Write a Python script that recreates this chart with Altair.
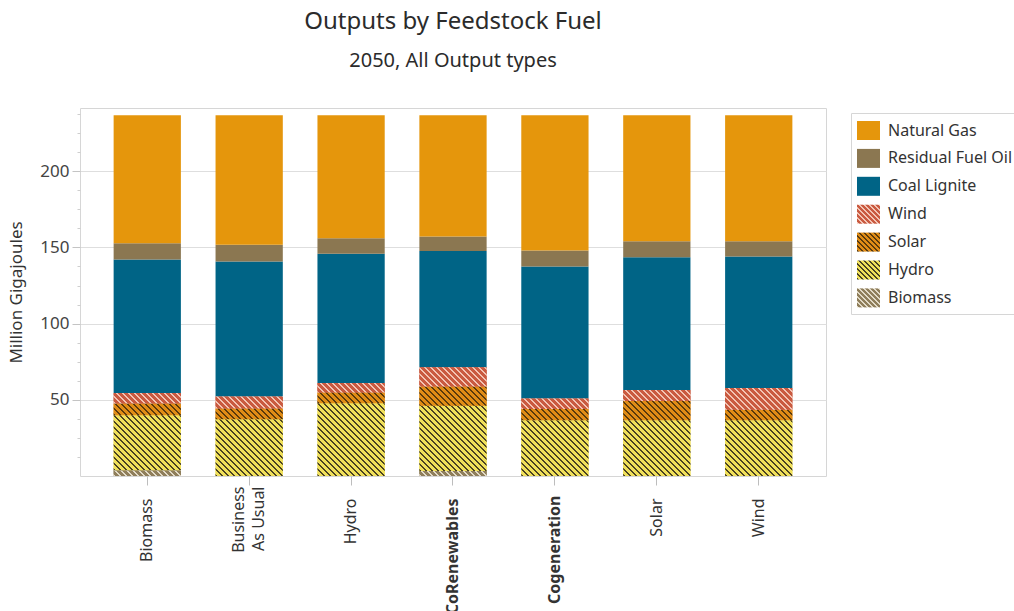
import altair as alt
import pandas as pd

# Scenarios along the x axis
scenarios = ["Biomass", "Business As Usual", "Hydro", "CoRenewables", "Cogeneration", "Solar", "Wind"]

# Outputs by feedstock fuel, million GJ, one value per scenario (order as above)
biomass = [3.7, 0.0, 0.0, 3.3, 0.0, 0.0, 0.0]
hydro = [36.2, 37.3, 47.8, 42.8, 36.6, 36.6, 36.6]
solar = [7.7, 7.0, 7.0, 12.7, 7.3, 12.7, 6.8]
wind = [6.8, 7.9, 6.2, 12.5, 7.0, 7.1, 14.3]
coal_lignite = [87.7, 88.6, 84.9, 76.3, 86.6, 87.2, 86.4]
residual_fuel_oil = [10.7, 11.0, 10.2, 9.6, 10.5, 10.5, 10.0]
natural_gas = [84.0, 85.0, 80.7, 79.6, 88.8, 82.7, 82.7]

# Stacking order, bottom to top
fuels = ["Biomass", "Hydro", "Solar", "Wind", "Coal Lignite", "Residual Fuel Oil", "Natural Gas"]
series = [biomass, hydro, solar, wind, coal_lignite, residual_fuel_oil, natural_gas]
legend_order = fuels[::-1]

fill_colors = {
    "Natural Gas": "#e5960c",
    "Residual Fuel Oil": "#8b7751",
    "Coal Lignite": "#006486",
    "Wind": "#c95a40",
    "Solar": "#e08c16",
    "Hydro": "#f0e05a",
    "Biomass": "#8f7e5b",
}
# Hatched fuels: colour of the diagonal lines drawn over the fill
stripe_colors = {
    "Wind": "#f3c4b4",
    "Solar": "#5a3a0c",
    "Hydro": "#4a4222",
    "Biomass": "#e2dac6",
}

FONT = "Noto Sans"
W, H = 746, 368
Y_MAX = 241.5
PAD_INNER, PAD_OUTER = 0.34, 0.33
STEP = W / (len(scenarios) - PAD_INNER + 2 * PAD_OUTER)
BAR_W = STEP * (1 - PAD_INNER)


def hatch(w, h, base, line, period, lw):
    """Linear gradient with hard stops that draws 45-degree '\\' stripes
    over a w x h box (gradient runs in bounding-box units)."""
    span = w + h
    k = span / (w * w + h * h)
    stops = []
    pos = 0.0
    while pos < span - 1e-9:
        a = pos / span
        b = min(pos + lw, span) / span
        c = min(pos + period, span) / span
        stops += [
            {"offset": round(a, 5), "color": line},
            {"offset": round(b, 5), "color": line},
            {"offset": round(b, 5), "color": base},
            {"offset": round(c, 5), "color": base},
        ]
        pos += period
    return {
        "gradient": "linear",
        "x1": 0, "y1": 1,
        "x2": round(w * k, 5), "y2": round(1 - h * k, 5),
        "stops": stops,
    }


def gradient_expr(g):
    """Same gradient written as a Vega expression object literal."""
    stops = ", ".join(f"{{offset: {s['offset']}, color: '{s['color']}'}}" for s in g["stops"])
    return (
        f"{{gradient: 'linear', x1: {g['x1']}, y1: {g['y1']}, "
        f"x2: {g['x2']}, y2: {g['y2']}, stops: [{stops}]}}"
    )


rows = []
for rank, (fuel, vals) in enumerate(zip(fuels, series)):
    for sc, v in zip(scenarios, vals):
        rows.append({"scenario": sc, "fuel": fuel, "value": v, "rank": rank})
df = pd.DataFrame(rows)

stacked = alt.Chart(df).transform_stack(
    stack="value",
    groupby=["scenario"],
    sort=[alt.SortField("rank", order="ascending")],
    as_=["v0", "v1"],
)

x_scale = alt.Scale(domain=scenarios, paddingInner=PAD_INNER, paddingOuter=PAD_OUTER)
y_scale = alt.Scale(domain=[0, Y_MAX], nice=False, zero=True)

x_axis = alt.Axis(
    title=None,
    domain=False,
    labelAngle=270,
    labelAlign="right",
    labelBaseline="middle",
    labelFontSize=16,
    labelColor="#333333",
    labelLineHeight=20,
    labelFontWeight={
        "condition": {
            "test": "datum.value === 'Cogeneration' || datum.value === 'CoRenewables'",
            "value": "bold",
        },
        "value": "normal",
    },
    labelExpr="datum.value === 'Business As Usual' ? ['Business', 'As Usual'] : datum.label",
    labelPadding={
        "condition": [
            {"test": "datum.value === 'Business As Usual'", "value": 1},
            {"test": "datum.value === 'Cogeneration'", "value": 10},
        ],
        "value": 13,
    },
    labelOffset={
        "condition": {"test": "datum.value === 'Business As Usual'", "value": -10},
        "value": 0,
    },
    labelLimit=400,
    tickSize=9,
    tickColor="#bdbdbd",
    grid=False,
)
# Layers other than the first reuse the x axis above (no separate settings)
x_shared = alt.X("scenario:N", scale=x_scale, sort=scenarios)

y_axis = alt.Axis(
    orient="left",
    title="Million Gigajoules",
    titleFontSize=17,
    titleFontWeight="normal",
    titleColor="#333333",
    titlePadding=14,
    values=[50, 100, 150, 200],
    labelFontSize=17,
    labelColor="#444444",
    labelPadding=3,
    tickSize=8,
    tickColor="#c4c4c4",
    domain=False,
    grid=True,
    gridColor="#dedede",
)

minor_values = [v * 12.5 for v in range(1, 20) if (v * 12.5) % 50 != 0]
minor_axis = alt.Axis(
    orient="left",
    title=None,
    values=minor_values,
    labels=False,
    tickSize=3,
    tickColor="#cfcfcf",
    domain=False,
    grid=False,
)

# Legend swatches: 23 x 19 rectangles, hatched ones filled with stripes
SW, SH = 23, 19
swatch_path = f"M-1,-{SH / SW:.4f}H1V{SH / SW:.4f}H-1Z"
swatch_fill = "'#888888'"
for f in fuels:
    if f in stripe_colors:
        val = gradient_expr(hatch(SW, SH, fill_colors[f], stripe_colors[f], 5.0, 1.8))
    else:
        val = f"'{fill_colors[f]}'"
    swatch_fill = f"datum.label === '{f}' ? {val} : ({swatch_fill})"

legend = alt.Legend(
    title=None,
    orient="none",
    legendX=W + 25,
    legendY=5,
    padding=6,
    strokeColor="#d6d6d6",
    fillColor="white",
    labelFont=FONT,
    labelFontSize=16,
    labelColor="#333333",
    labelOffset=8,
    labelLimit=400,
    symbolSize=SW * SW,
    symbolStrokeWidth=0,
    symbolStrokeColor="transparent",
    symbolOpacity=1,
    rowPadding=5.9,
)

base = stacked.mark_bar().encode(
    x=alt.X("scenario:N", scale=x_scale, sort=scenarios, axis=x_axis),
    y=alt.Y("v0:Q", scale=y_scale, axis=y_axis),
    y2="v1:Q",
    fill=alt.Fill(
        "fuel:N",
        scale=alt.Scale(domain=fuels, range=[fill_colors[f] for f in fuels]),
        legend=None,
    ),
)

overlays = []
for fuel in ["Biomass", "Hydro", "Solar", "Wind"]:
    vals = series[fuels.index(fuel)]
    conds = []
    for sc, v in zip(scenarios, vals):
        if v > 0:
            seg_h = v * H / Y_MAX
            conds.append({
                "test": f"datum.scenario === '{sc}'",
                "value": hatch(BAR_W, seg_h, fill_colors[fuel], stripe_colors[fuel], 6.0, 2.0),
            })
    overlays.append(
        stacked.transform_filter(f"datum.fuel === '{fuel}' && datum.value > 0")
        .mark_bar()
        .encode(
            x=x_shared,
            y=alt.Y("v0:Q", scale=y_scale, axis=minor_axis if fuel == "Hydro" else None),
            y2="v1:Q",
            fill=alt.FillValue(value=fill_colors[fuel], condition=conds),
        )
    )

# Legend carrier: no rows survive the filter, the shape scale domain lists the fuels;
# its fill expression colours (or hatches) each legend swatch by label
legend_layer = (
    alt.Chart(df)
    .transform_filter("false")
    .mark_point(filled=True, fill=alt.ExprRef(expr=swatch_fill), opacity=1, strokeWidth=0)
    .encode(
        x=x_shared,
        y=alt.Y("value:Q", scale=y_scale, axis=None),
        shape=alt.Shape(
            "fuel:N",
            scale=alt.Scale(domain=legend_order, range=[swatch_path] * len(legend_order)),
            legend=legend,
        ),
    )
)

chart = (
    alt.layer(base, *overlays, legend_layer)
    .resolve_axis(y="independent")
    .properties(
        width=W,
        height=H,
        autosize=alt.AutoSizeParams(type="none"),
        padding={"left": 80, "top": 108, "right": 188, "bottom": 135},
        title=alt.Title(
            "Outputs by Feedstock Fuel",
            subtitle="2050, All Output types",
            anchor="middle",
            font=FONT,
            fontSize=24,
            fontWeight="normal",
            color="#2b2b2b",
            subtitleFont=FONT,
            subtitleFontSize=20,
            subtitleColor="#2b2b2b",
            subtitlePadding=17,
            offset=37,
        ),
    )
    .configure(font=FONT, background="white")
    .configure_view(stroke="#d6d6d6", strokeWidth=1)
)

chart.save("out.html", embed_options={"renderer": "svg", "actions": False})
